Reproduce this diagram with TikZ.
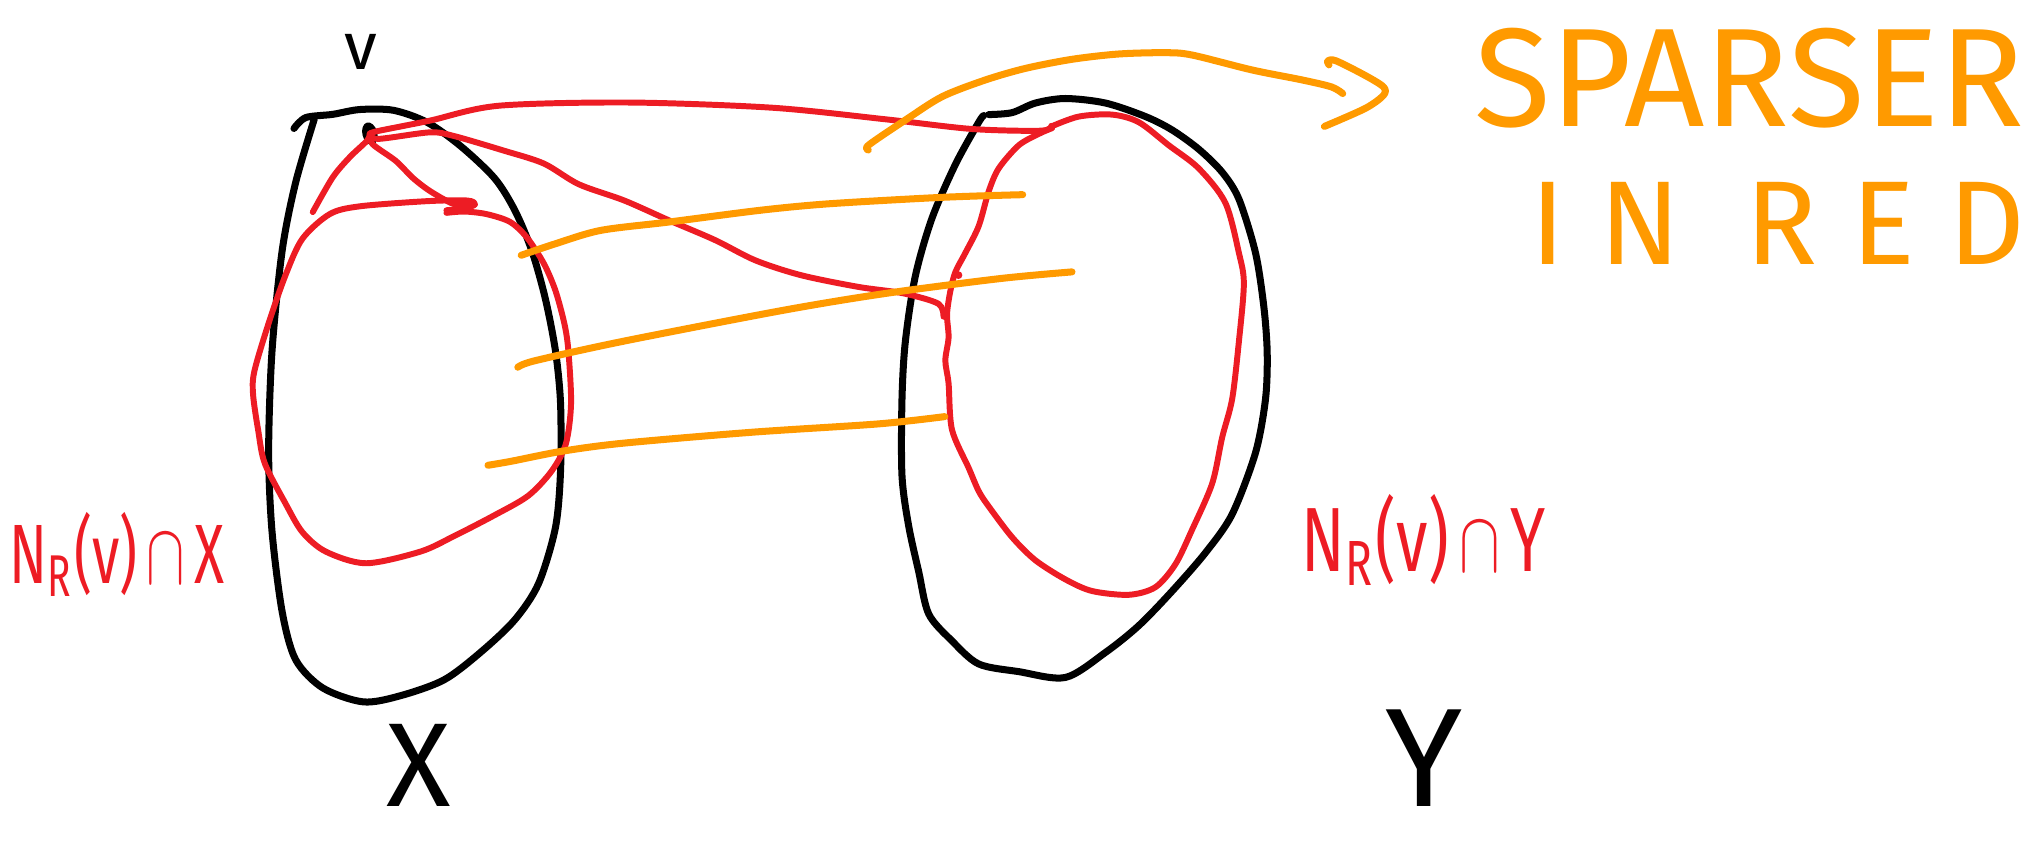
\documentclass[tikz,border=0pt]{standalone}
\usepackage{fontspec}
\usepackage{graphicx}
\setmainfont{Fira Sans}
\usetikzlibrary{shapes.geometric}
\definecolor{pred}{HTML}{ED1C24}
\definecolor{porange}{HTML}{FF9A00}
\tikzset{
  pen/.style={line cap=round, line join=round},
  blackpen/.style={pen, draw=black, line width=2pt},
  redpen/.style={pen, draw=pred, line width=1.7pt},
  orangepen/.style={pen, draw=porange, line width=2pt},
  lab/.style={inner sep=0pt},
}
\begin{document}
\begin{tikzpicture}[x=0.013cm, y=-0.013cm]
\useasboundingbox (0,0) rectangle (1568,649);

% ---- set X (black) ----
\draw[blackpen] plot[smooth, tension=0.5] coordinates {
 (226.5,99) (235.6,90.6) (256.4,88.1) (277.2,84.4) (303.2,85) (329.2,94.3)
 (355.2,112.8) (381.2,137.5) (396.8,162.3) (409.8,193.2) (420.2,230.2)
 (428,270.4) (431.9,310.6) (431.9,363.1) (428,406.4) (415,449.6)
 (396.8,477.4) (370.8,502.2) (342.2,523.8) (308.4,536.1) (279.8,540.8)
 (248.6,530) (227.8,508.3) (217.4,471.3) (209.6,409.5) (207,347.7)
 (209.6,270.4) (217.4,193.2) (227.8,140.6) (242.1,92)};

% ---- set Y (black) ----
\draw[blackpen] plot[smooth, tension=0.5] coordinates {
 (761.8,88.3) (779.8,86.8) (797.8,79.4) (820.9,75.9) (851.8,79.4)
 (882.6,89.8) (903.2,100.2) (923.7,115) (941.7,132.7) (954.6,153.4)
 (967.4,194.9) (973.8,236.3) (976.4,271.8) (975.1,307.4) (967.4,348.8)
 (949.4,396.2) (928.9,425.8) (903.2,455.4) (877.5,482) (851.8,502.7)
 (820.9,522) (785,517.5) (754.1,511.6) (733.5,493.8) (715.6,473.1)
 (707.9,440.6) (700.1,405) (695,366.6) (695,307.4) (697.6,263)
 (705.3,212.6) (718.1,168.2) (736.1,126.8) (754.1,94.2) (758,89)};

% ---- red neighbourhood in X ----
\draw[redpen] plot[smooth, tension=0.5] coordinates {
 (344,164) (358,163) (375,165) (393,171) (406,183) (419,203) (428,224)
 (435,250) (438,271) (440,311) (436,342) (425,363) (407,382) (381,397)
 (350,413) (324,425) (282,434) (251,425) (233,410) (220,388) (204,357)
 (199,332) (195,304) (196,286) (207,249) (220,212) (233,184) (254,165)
 (277,159) (329,155) (360,154.5) (366,157.5) (358,160.5) (344,162)};

% ---- red neighbourhood in Y ----
\draw[redpen] plot[smooth, tension=0.5] coordinates {
 (810.7,97.2) (831.3,89.8) (856.9,88.3) (877.5,94.2) (900.6,112)
 (923.7,129.8) (944.2,156.4) (954.6,194.9) (958.4,218.6) (954.6,263)
 (949.4,307.4) (941.7,337) (934,372.5) (918.6,408) (905.7,434.7)
 (890.3,452.4) (869.8,458.3) (841.5,455.4) (821,446.5) (797.8,431.7)
 (779.8,413.9) (761.8,390.2) (754.1,378.4) (746.4,360.6) (733.5,331)
 (730.9,295.5) (728.4,277.8) (730.9,260) (729.7,242.3) (732.2,224.5)
 (736.1,209.7) (743.8,194.9) (754.1,174.2) (761.8,147.5) (769.5,129.8)
 (784.9,112) (800.3,103.2) (810.7,98.7)};
\fill[pred] (738.5,212) circle (3);
\fill[pred] (728,243) circle (3.2);

% ---- vertex v ----
\node[ellipse, fill=black, minimum width=1.5mm, minimum height=2.3mm,
      inner sep=0pt, rotate=15] (v) at (285,103) {};

% ---- red edges from v ----
\draw[redpen] plot[smooth, tension=0.5] coordinates {
 (v.center) (291,101) (331,93) (384,81.5) (485,79) (595,83) (683,92)
 (749,99.4) (802,100.7) (810,97)};
\draw[redpen] plot[smooth, tension=0.5] coordinates {
 (v.center) (291.6,107) (331,102) (349,104.6) (388,116) (419,126)
 (446,142) (481,154.5) (516,170) (551,185) (582,200.6) (617,212)
 (661,221) (696,226) (723,234) (727,244)};
\draw[redpen] plot[smooth, tension=0.5] coordinates {
 (v.center) (282.8,108.4) (269.6,121) (256.4,136.6) (241,163.4)};
\draw[redpen] plot[smooth, tension=0.5] coordinates {
 (v.center) (287,111) (305,124) (318,137) (331,147) (349,157) (362,158.3)};

% ---- orange edges ----
\draw[orangepen] plot[smooth, tension=0.5] coordinates {
 (401.6,196.7) (428,187.8) (463,177.5) (516,171) (586,162) (639,157)
 (727,152) (788,150)};
\draw[orangepen] plot[smooth, tension=0.5] coordinates {
 (399,283) (412,278) (480,263) (604,239) (683,226) (771,214.6) (826,209.5)};
\draw[orangepen] plot[smooth, tension=0.5] coordinates {
 (376,358.5) (394,355.4) (433,347.7) (480,341.5) (580,333) (677,326.6)
 (728,321)};

% ---- orange arrow to the note ----
\draw[orangepen] plot[smooth, tension=0.5] coordinates {
 (669,115.6) (669.4,111.7) (697.6,92.5) (725.9,74.5) (759.3,61.6)
 (790.1,52.7) (826,45.7) (862,41.6) (898,40.6) (918.5,42.4) (964.7,53.9)
 (1003.3,61.6) (1026,67) (1034.6,72.1)};
\draw[orangepen] plot[smooth, tension=0.5] coordinates {
 (1024,50) (1023,47) (1029.3,46.8) (1052,58.2) (1066,67) (1066,73.4)
 (1052,83.5) (1020.5,97.4)};

% ---- labels ----
\node[lab, text=black, font=\fontsize{19}{19}\selectfont] (vlab) at (278,40) {v};
\node[lab, text=black, font=\fontsize{34}{34}\selectfont] (xlab) at (323,590) {X};
\node[lab, text=black, font=\fontsize{40}{40}\selectfont] (ylab) at (1097,584) {Y};

\node[lab, text=pred, font=\fontsize{24}{24}\selectfont] (nx) at (90,427)
  {\scalebox{0.66}[1]{N\textsubscript{R}\kern1pt(v)\,$\cap$\,X}};
\node[lab, text=pred, font=\fontsize{26}{26}\selectfont] (ny) at (1097,416)
  {\scalebox{0.7}[1]{N\textsubscript{R}\kern1pt(v)\,$\cap$\,Y}};

\node[lab, text=porange, font=\fontsize{40}{40}\selectfont] (sp) at (1348,60)
  {SPARSER};
\node[lab, text=porange, font=\fontsize{34}{34}\selectfont] (ir) at (1370,172)
  {\addfontfeature{LetterSpace=28}IN RED};
\end{tikzpicture}
\end{document}
